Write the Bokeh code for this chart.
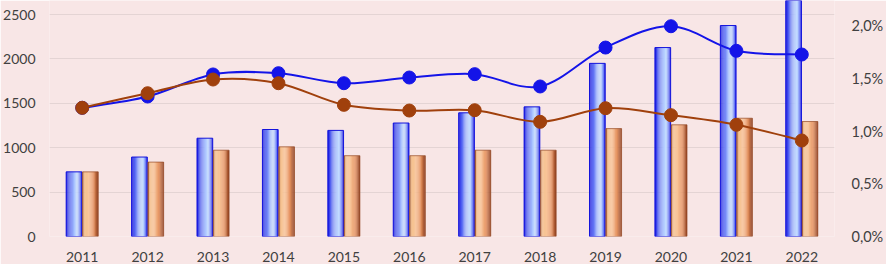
from bokeh.plotting import figure
from bokeh.models import (ColumnDataSource, Range1d, LinearAxis, FixedTicker,
                          CustomJSTickFormatter)
from bokeh.transform import dodge
from bokeh.embed import file_html
from bokeh.resources import INLINE

years = [2011, 2012, 2013, 2014, 2015, 2016, 2017, 2018, 2019, 2020, 2021, 2022]
blue_bars = [728, 895, 1107, 1205, 1195, 1278, 1393, 1460, 1950, 2128, 2376, 2700]
orange_bars = [728, 838, 972, 1010, 910, 910, 972, 972, 1215, 1258, 1332, 1295]
blue_pct = [1.22, 1.327, 1.536, 1.548, 1.453, 1.507, 1.539, 1.422, 1.791, 1.993, 1.76, 1.725]
orange_pct = [1.22, 1.358, 1.488, 1.453, 1.248, 1.194, 1.197, 1.087, 1.216, 1.15, 1.059, 0.91]
left_ticks = [0, 500, 1000, 1500, 2000, 2500]
right_ticks = [0, 0.5, 1.0, 1.5, 2.0]

BG = "#f8e6e6"
TXT = "#404040"
FONT = "Lato"

src = ColumnDataSource(dict(x=years, b=blue_bars, o=orange_bars, bp=blue_pct, op=orange_pct))

p = figure(width=886, height=264, output_backend="svg", toolbar_location=None,
           x_range=Range1d(2010.5, 2022.5), y_range=Range1d(0, 2658),
           min_border_left=48, min_border_right=48, min_border_top=0, min_border_bottom=28)
p.extra_y_ranges = {"pct": Range1d(0, 2.237)}
p.background_fill_color = BG
p.border_fill_color = BG
p.outline_line_color = None

# axes
p.xaxis.ticker = FixedTicker(ticks=years)
p.yaxis.ticker = FixedTicker(ticks=left_ticks)
ax_r = LinearAxis(y_range_name="pct", ticker=FixedTicker(ticks=right_ticks),
                  formatter=CustomJSTickFormatter(code="return tick.toFixed(1).replace('.', ',') + '%';"))
p.add_layout(ax_r, "right")
for ax in [p.xaxis[0], p.yaxis[0], ax_r]:
    ax.axis_line_color = None
    ax.major_tick_line_color = None
    ax.minor_tick_line_color = None
    ax.major_tick_out = 0
    ax.major_tick_in = 0
    ax.major_label_text_font = FONT
    ax.major_label_text_font_size = "14px"
    ax.major_label_text_color = TXT
p.yaxis[0].major_label_standoff = 14
ax_r.major_label_standoff = 17
ax_r.major_label_text_font_size = "14.5px"
p.xaxis[0].major_label_standoff = 15

p.xgrid.visible = False
p.ygrid.ticker = FixedTicker(ticks=left_ticks)
p.ygrid.grid_line_color = "#e4d4d4"
p.ygrid.grid_line_width = 1


def interp(stops, t):
    for i in range(len(stops) - 1):
        t0, c0 = stops[i]
        t1, c1 = stops[i + 1]
        if t0 <= t <= t1:
            f = (t - t0) / (t1 - t0) if t1 > t0 else 0
            c = [round(c0[k] + (c1[k] - c0[k]) * f) for k in range(3)]
            return "#%02x%02x%02x" % tuple(c)
    return "#%02x%02x%02x" % tuple(stops[-1][1])


blue_stops = [(0, (20, 20, 220)), (0.15, (70, 85, 240)), (0.5, (165, 190, 255)),
              (0.72, (200, 225, 255)), (0.88, (120, 140, 250)), (1, (20, 20, 220))]
orange_stops = [(0, (150, 75, 40)), (0.12, (245, 195, 145)), (0.4, (248, 195, 150)),
                (0.72, (228, 145, 95)), (0.9, (170, 88, 48)), (1, (140, 60, 30))]

W = 0.24
N = 14
sw = W / N
for center, col, stops, la in [(-0.125, "b", blue_stops, 1.0), (0.125, "o", orange_stops, 0.7)]:
    for i in range(N):
        off = center - W / 2 + sw * (i + 0.5)
        c = interp(stops, (i + 0.5) / N)
        p.vbar(x=dodge("x", off, range=p.x_range), top=col, width=sw * 1.08, bottom=0,
               source=src, fill_color=c, line_color=None)
    p.vbar(x=dodge("x", center, range=p.x_range), top=col, width=W, bottom=0, source=src,
           fill_color=None, line_color=interp(stops, 0.0), line_width=1, line_alpha=la)


def smooth(xs, ys):
    n = len(xs)
    x0, y0, x1, y1, cx0, cy0, cx1, cy1 = [], [], [], [], [], [], [], []
    for i in range(n - 1):
        pm = max(i - 1, 0)
        pp = min(i + 2, n - 1)
        x0.append(xs[i]); y0.append(ys[i])
        x1.append(xs[i + 1]); y1.append(ys[i + 1])
        cx0.append(xs[i] + (xs[i + 1] - xs[pm]) / 6)
        cy0.append(ys[i] + (ys[i + 1] - ys[pm]) / 6)
        cx1.append(xs[i + 1] - (xs[pp] - xs[i]) / 6)
        cy1.append(ys[i + 1] - (ys[pp] - ys[i]) / 6)
    return ColumnDataSource(dict(x0=x0, y0=y0, x1=x1, y1=y1, cx0=cx0, cy0=cy0, cx1=cx1, cy1=cy1))


for vals, color in [(blue_pct, "#1414e8"), (orange_pct, "#a0400c")]:
    s = smooth(years, vals)
    p.bezier(x0="x0", y0="y0", x1="x1", y1="y1", cx0="cx0", cy0="cy0", cx1="cx1", cy1="cy1",
             source=s, line_color=color, line_width=2, y_range_name="pct")
    p.scatter(x=years, y=vals, size=13, fill_color=color, line_color=color,
              y_range_name="pct")

open("out.html", "w").write(file_html(p, INLINE))
